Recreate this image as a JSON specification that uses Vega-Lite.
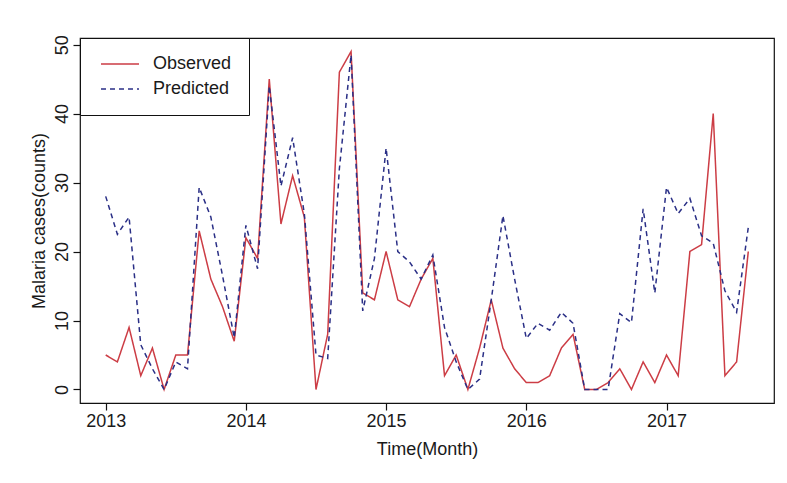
{
  "$schema": "https://vega.github.io/schema/vega-lite/v6.json",
  "width": 694,
  "height": 365,
  "autosize": "none",
  "padding": {"left": 80, "top": 38, "right": 13, "bottom": 80},
  "background": "white",
  "config": {
    "view": {"stroke": "#111111", "strokeWidth": 1.2},
    "font": "Liberation Sans"
  },
  "data": {
    "values": [
      {"t": 2013.0000, "Observed": 5, "Predicted": 28},
      {"t": 2013.0833, "Observed": 4, "Predicted": 22.5},
      {"t": 2013.1667, "Observed": 9, "Predicted": 25},
      {"t": 2013.2500, "Observed": 2, "Predicted": 6.5},
      {"t": 2013.3333, "Observed": 6, "Predicted": 3},
      {"t": 2013.4167, "Observed": 0, "Predicted": 0},
      {"t": 2013.5000, "Observed": 5, "Predicted": 4},
      {"t": 2013.5833, "Observed": 5, "Predicted": 3},
      {"t": 2013.6667, "Observed": 23, "Predicted": 29.3},
      {"t": 2013.7500, "Observed": 16, "Predicted": 25},
      {"t": 2013.8333, "Observed": 12, "Predicted": 16.5},
      {"t": 2013.9167, "Observed": 7, "Predicted": 7.5},
      {"t": 2014.0000, "Observed": 22, "Predicted": 23.8},
      {"t": 2014.0833, "Observed": 19, "Predicted": 17.5},
      {"t": 2014.1667, "Observed": 45, "Predicted": 44},
      {"t": 2014.2500, "Observed": 24, "Predicted": 29.5},
      {"t": 2014.3333, "Observed": 31, "Predicted": 36.5},
      {"t": 2014.4167, "Observed": 25, "Predicted": 25.5},
      {"t": 2014.5000, "Observed": 0, "Predicted": 5},
      {"t": 2014.5833, "Observed": 8, "Predicted": 4.5},
      {"t": 2014.6667, "Observed": 46, "Predicted": 32},
      {"t": 2014.7500, "Observed": 49, "Predicted": 48.5},
      {"t": 2014.8333, "Observed": 14, "Predicted": 11.4},
      {"t": 2014.9167, "Observed": 13, "Predicted": 19},
      {"t": 2015.0000, "Observed": 20, "Predicted": 35},
      {"t": 2015.0833, "Observed": 13, "Predicted": 20},
      {"t": 2015.1667, "Observed": 12, "Predicted": 18.5},
      {"t": 2015.2500, "Observed": 16, "Predicted": 16},
      {"t": 2015.3333, "Observed": 19, "Predicted": 19.5},
      {"t": 2015.4167, "Observed": 2, "Predicted": 9},
      {"t": 2015.5000, "Observed": 5, "Predicted": 4},
      {"t": 2015.5833, "Observed": 0, "Predicted": 0},
      {"t": 2015.6667, "Observed": 6, "Predicted": 1.5},
      {"t": 2015.7500, "Observed": 13, "Predicted": 13},
      {"t": 2015.8333, "Observed": 6, "Predicted": 25.2},
      {"t": 2015.9167, "Observed": 3, "Predicted": 16},
      {"t": 2016.0000, "Observed": 1, "Predicted": 7.4},
      {"t": 2016.0833, "Observed": 1, "Predicted": 9.6},
      {"t": 2016.1667, "Observed": 2, "Predicted": 8.6},
      {"t": 2016.2500, "Observed": 6, "Predicted": 11.2},
      {"t": 2016.3333, "Observed": 8, "Predicted": 9.6},
      {"t": 2016.4167, "Observed": 0, "Predicted": 0},
      {"t": 2016.5000, "Observed": 0, "Predicted": 0},
      {"t": 2016.5833, "Observed": 1, "Predicted": 0},
      {"t": 2016.6667, "Observed": 3, "Predicted": 11},
      {"t": 2016.7500, "Observed": 0, "Predicted": 9.7},
      {"t": 2016.8333, "Observed": 4, "Predicted": 26.2},
      {"t": 2016.9167, "Observed": 1, "Predicted": 14},
      {"t": 2017.0000, "Observed": 5, "Predicted": 29.3},
      {"t": 2017.0833, "Observed": 2, "Predicted": 25.5},
      {"t": 2017.1667, "Observed": 20, "Predicted": 27.7},
      {"t": 2017.2500, "Observed": 21, "Predicted": 22.3},
      {"t": 2017.3333, "Observed": 40, "Predicted": 21.2},
      {"t": 2017.4167, "Observed": 2, "Predicted": 14.3},
      {"t": 2017.5000, "Observed": 4, "Predicted": 11.2},
      {"t": 2017.5833, "Observed": 20, "Predicted": 23.5}
    ]
  },
  "transform": [{"fold": ["Observed", "Predicted"], "as": ["series", "cases"]}],
  "mark": {"type": "line", "strokeWidth": 1.5, "clip": true},
  "encoding": {
    "x": {
      "field": "t",
      "type": "quantitative",
      "scale": {"domain": [2012.8167, 2017.7667], "nice": false, "zero": false},
      "axis": {
        "values": [2013, 2014, 2015, 2016, 2017],
        "format": "d",
        "domain": false,
        "grid": false,
        "tickSize": 7,
        "tickColor": "#111111",
        "tickWidth": 1.2,
        "labelFontSize": 18,
        "labelColor": "#1a1a1a",
        "labelPadding": 2,
        "labelFlush": false,
        "title": "Time(Month)",
        "titleFontSize": 18,
        "titleFontWeight": "normal",
        "titleColor": "#1a1a1a",
        "titlePadding": 10
      }
    },
    "y": {
      "field": "cases",
      "type": "quantitative",
      "scale": {"domain": [-1.96, 50.96], "nice": false, "zero": false},
      "axis": {
        "values": [0, 10, 20, 30, 40, 50],
        "domain": false,
        "grid": false,
        "tickSize": 7,
        "tickColor": "#111111",
        "tickWidth": 1.2,
        "labelAngle": 270,
        "labelFontSize": 18,
        "labelColor": "#1a1a1a",
        "labelPadding": 2,
        "labelFlush": false,
        "title": "Malaria cases(counts)",
        "titleFontSize": 18,
        "titleFontWeight": "normal",
        "titleColor": "#1a1a1a",
        "titlePadding": 5
      }
    },
    "color": {
      "field": "series",
      "type": "nominal",
      "scale": {"domain": ["Observed", "Predicted"], "range": ["#cc3d45", "#2a2f86"]},
      "legend": {
        "orient": "top-left",
        "offset": 0,
        "title": null,
        "strokeColor": "#111111",
        "fillColor": "white",
        "padding": 17,
        "labelFontSize": 18,
        "labelColor": "#1a1a1a",
        "symbolType": "M-1.25,0H8.25",
        "symbolSize": 64,
        "symbolStrokeWidth": 1.5,
        "symbolFillColor": "transparent",
        "labelOffset": 38,
        "rowPadding": 7
      }
    },
    "strokeDash": {
      "field": "series",
      "type": "nominal",
      "scale": {"domain": ["Observed", "Predicted"], "range": [[1, 0], [5, 4]]},
      "legend": {
        "orient": "top-left",
        "offset": 0,
        "title": null,
        "strokeColor": "#111111",
        "fillColor": "white",
        "padding": 17,
        "labelFontSize": 18,
        "labelColor": "#1a1a1a",
        "symbolType": "M-1.25,0H8.25",
        "symbolSize": 64,
        "symbolStrokeWidth": 1.5,
        "symbolFillColor": "transparent",
        "labelOffset": 38,
        "rowPadding": 7
      }
    }
  }
}
